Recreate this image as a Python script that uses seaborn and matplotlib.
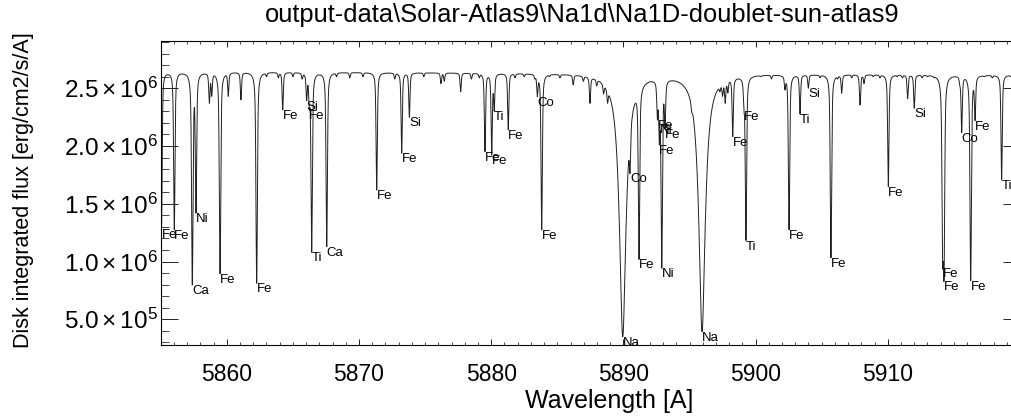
import numpy as np
import pandas as pd
import matplotlib
matplotlib.use("Agg")
import matplotlib.pyplot as plt
import seaborn as sns
from matplotlib.ticker import MultipleLocator, FixedLocator, FuncFormatter

# ---------------- data ----------------
title_text = r"output-data\Solar-Atlas9\Na1d\Na1D-doublet-sun-atlas9"
x_label = "Wavelength [A]"
y_label = "Disk integrated flux [erg/cm2/s/A]"
x_ticks = [5860, 5870, 5880, 5890, 5900, 5910]

# identified lines: wavelength [A], element, flux at line centre
line_wl = [5855.06, 5856.03, 5857.39, 5857.67, 5859.49, 5862.26, 5864.23,
           5866.04, 5866.24, 5866.42, 5867.56, 5871.34, 5873.23, 5873.81,
           5879.53, 5880.04, 5880.23, 5881.29, 5883.49, 5883.82, 5889.95,
           5890.50, 5891.18, 5892.57, 5892.72, 5892.77, 5892.90, 5893.15,
           5895.95, 5898.27, 5899.12, 5899.27, 5902.53, 5903.36, 5903.99,
           5905.70, 5910.04, 5912.00, 5914.15, 5914.25, 5915.59, 5916.27,
           5916.60, 5918.61]
line_el = ["Fe", "Fe", "Ca", "Ni", "Fe", "Fe", "Fe",
           "Si", "Fe", "Ti", "Ca", "Fe", "Fe", "Si",
           "Fe", "Fe", "Ti", "Fe", "Co", "Fe", "Na",
           "Co", "Fe", "Fe", "Fe", "Ni", "Ni", "Fe",
           "Na", "Fe", "Fe", "Ti", "Fe", "Ti", "Si",
           "Fe", "Fe", "Si", "Fe", "Fe", "Co", "Fe",
           "Fe", "Ti"]
line_flux = [1.282e6, 1.273e6, 0.797e6, 1.418e6, 0.892e6, 0.812e6, 2.312e6,
             2.393e6, 2.312e6, 1.080e6, 1.129e6, 1.619e6, 1.937e6, 2.249e6,
             1.951e6, 1.923e6, 2.303e6, 2.139e6, 2.427e6, 1.273e6, 0.350e6,
             1.764e6, 1.019e6, 2.226e6, 2.009e6, 2.188e6, 0.942e6, 2.148e6,
             0.393e6, 2.081e6, 2.303e6, 1.181e6, 1.273e6, 2.277e6, 2.500e6,
             1.033e6, 1.648e6, 2.327e6, 0.947e6, 0.834e6, 2.116e6, 0.834e6,
             2.220e6, 1.706e6]

# weak, unlabelled lines: wavelength [A], flux at line centre
weak_wl = [5858.68, 5858.86, 5860.11, 5861.07, 5863.00, 5863.90, 5865.00,
           5865.70, 5868.30, 5869.30, 5870.30, 5872.70, 5874.90, 5876.20,
           5876.45, 5877.69, 5878.50, 5879.10, 5881.80, 5882.50, 5883.30,
           5884.40, 5885.20, 5886.20, 5886.97, 5887.47, 5887.98, 5888.50,
           5888.80, 5895.17, 5897.00, 5897.30, 5897.50, 5897.70, 5897.90,
           5899.60, 5900.40, 5901.20, 5902.22, 5904.87, 5906.20, 5906.51,
           5907.27, 5907.90, 5908.20, 5908.90, 5909.40, 5910.70, 5911.10,
           5911.50, 5912.60, 5913.00, 5913.50, 5914.90, 5915.45, 5917.30,
           5917.90, 5919.30]
weak_flux = [2.37e6, 2.43e6, 2.43e6, 2.40e6, 2.60e6, 2.59e6, 2.60e6,
             2.58e6, 2.60e6, 2.59e6, 2.60e6, 2.58e6, 2.60e6, 2.54e6,
             2.56e6, 2.47e6, 2.58e6, 2.59e6, 2.59e6, 2.60e6, 2.58e6,
             2.60e6, 2.59e6, 2.53e6, 2.56e6, 2.37e6, 2.52e6, 2.45e6,
             2.37e6, 2.29e6, 2.53e6, 2.47e6, 2.43e6, 2.37e6, 2.46e6,
             2.59e6, 2.60e6, 2.58e6, 2.485e6, 2.59e6, 2.58e6, 2.457e6,
             2.59e6, 2.355e6, 2.54e6, 2.60e6, 2.59e6, 2.60e6, 2.59e6,
             2.41e6, 2.59e6, 2.60e6, 2.59e6, 2.60e6, 2.52e6, 2.60e6,
             2.59e6, 2.60e6]

# continuum level at the two ends of the window
cont_wl = [5855.0, 5920.0]
cont_flux = [2.645e6, 2.615e6]

x_range = [5855.0, 5920.0]
y_range = [2.775e5, 2.912e6]

# ---------------- build the spectrum from the line list ----------------
grid = np.arange(x_range[0], x_range[1] + 1e-9, 0.004)
cont = np.interp(grid, cont_wl, cont_flux)

all_wl = np.array(line_wl + weak_wl)
all_target = np.array(line_flux + weak_flux)
all_broad = np.array([e == "Na" for e in line_el] + [False] * len(weak_wl))


def profile(x, c, broad):
    d = x - c
    if broad:
        return 0.8 / (1 + (d / 0.22) ** 2) + 0.2 * np.exp(-0.5 * (d / 0.07) ** 2)
    return 0.6 / (1 + (d / 0.05) ** 2) + 0.4 * np.exp(-0.5 * (d / 0.045) ** 2)


n = len(all_wl)
M = np.zeros((n, n))
for i in range(n):
    M[:, i] = profile(all_wl, all_wl[i], all_broad[i])
b = -np.log(all_target / np.interp(all_wl, cont_wl, cont_flux))
tau = np.clip(b.copy(), 0, None)
for _ in range(400):
    for j in range(n):
        tau[j] = max(0.0, tau[j] + (b[j] - M[j] @ tau))

tau_sum = np.zeros_like(grid)
for i in range(n):
    tau_sum += tau[i] * profile(grid, all_wl[i], all_broad[i])
flux = cont * np.exp(-tau_sum)

spec = pd.DataFrame({"wl": grid, "flux": flux})

# ---------------- plotting ----------------
sns.set_theme(style="white")
plt.rcParams["font.family"] = ["Liberation Sans", "DejaVu Sans"]
plt.rcParams["mathtext.fontset"] = "custom"
plt.rcParams["mathtext.rm"] = "Liberation Sans"
plt.rcParams["mathtext.it"] = "Liberation Sans:italic"
plt.rcParams["mathtext.bf"] = "Liberation Sans:bold"

W, H = 1011, 417
fig = plt.figure(figsize=(W / 100, H / 100), dpi=100)
fig.patch.set_facecolor("white")
ax = fig.add_axes([160.7 / W, 1 - 345 / H, (1020 - 160.7) / W, (345 - 40.7) / H])
ax.set_facecolor("white")

sns.lineplot(data=spec, x="wl", y="flux", ax=ax, color="#202020",
             linewidth=0.7, errorbar=None, estimator=None, sort=False)

for wl, el, fl in zip(line_wl, line_el, line_flux):
    ax.text(wl, fl, el, ha="left", va="top", fontsize=9.5, color="black",
            clip_on=False)

ax.set_xlim(*x_range)
ax.set_ylim(*y_range)
ax.set_xlabel("")
ax.set_ylabel("")

ax.xaxis.set_major_locator(FixedLocator(x_ticks))
ax.xaxis.set_minor_locator(MultipleLocator(1))
ax.yaxis.set_major_locator(MultipleLocator(5e5))
ax.yaxis.set_minor_locator(MultipleLocator(1e5))


def yfmt(v, pos):
    m, e = f"{v:.1e}".split("e")
    return r"$\mathregular{" + m + r"\times10^{" + str(int(e)) + r"}}$"


ax.yaxis.set_major_formatter(FuncFormatter(yfmt))
ax.xaxis.set_major_formatter(FuncFormatter(lambda v, p: f"{v:.0f}"))

ax.tick_params(axis="x", which="major", direction="in", length=4.3, width=0.6,
               top=True, bottom=True, labelsize=16.5, pad=13, colors="black")
ax.tick_params(axis="x", which="minor", direction="in", length=2.2, width=0.6,
               top=True, bottom=True)
ax.tick_params(axis="y", which="major", direction="in", length=12.2, width=0.6,
               left=True, right=True, labelsize=17.5, pad=2, colors="black")
ax.tick_params(axis="y", which="minor", direction="in", length=6.1, width=0.6,
               left=True, right=True)
for s in ax.spines.values():
    s.set_color("black")
    s.set_linewidth(0.8)

fig.text(582.5 / W, 1 - 22 / H, title_text, ha="center", va="baseline",
         fontsize=18.4, color="black")
fig.text(609.5 / W, 1 - 408 / H, x_label, ha="center", va="baseline",
         fontsize=18, color="black")
fig.text(24 / W, 1 - 190 / H, y_label, ha="center", va="center",
         rotation=90, fontsize=15.5, color="black")

fig.savefig("out.png", dpi=100, facecolor="white")
